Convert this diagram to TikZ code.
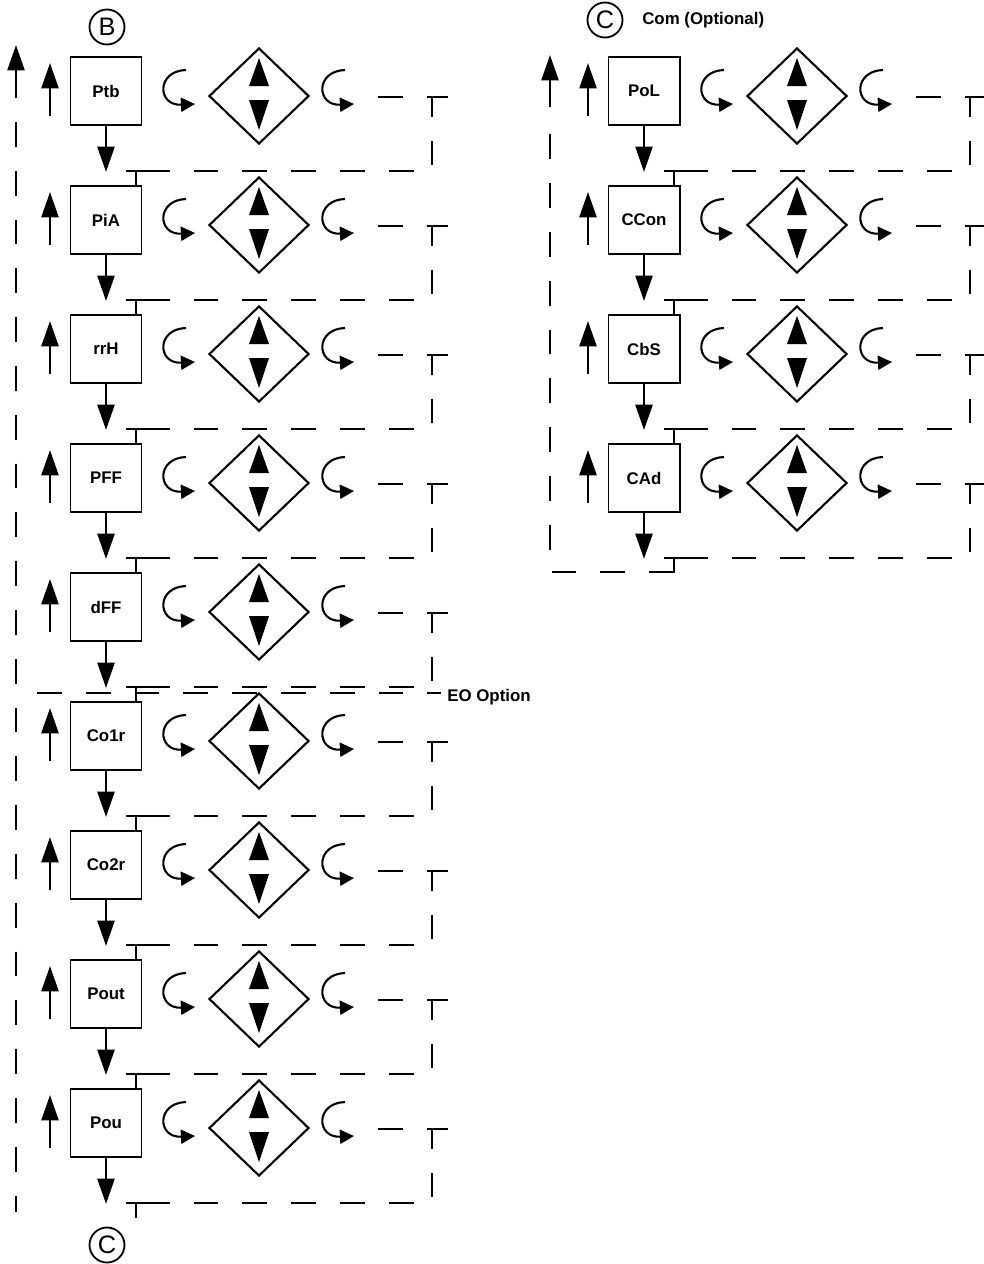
\documentclass[tikz,border=0pt]{standalone}
\usepackage{fontspec}
\setsansfont{Liberation Sans}
\usetikzlibrary{arrows.meta, shapes.geometric}
\tikzset{
  blk/.style={rectangle, draw, line width=1.4pt, minimum width=1.775cm, minimum height=1.7cm,
              inner sep=0pt, font=\fontsize{12}{13}\selectfont\sffamily\bfseries},
  dia/.style={diamond, draw, line width=1.5pt, minimum width=2.5cm, minimum height=2.4cm, inner sep=0pt},
  ar/.style={-{Triangle[length=18pt, width=12pt]}, line width=2pt},
  curl/.style={-{Triangle[length=10pt, width=10pt]}, line width=1.5pt},
  % gestrichelte Rueckfuehrung
  fb/.style={line width=1.6pt, dash pattern=on 17.7pt off 17pt},
  thk/.style={line width=1.6pt},
  circ/.style={circle, draw, line width=1.3pt, minimum size=0.875cm, inner sep=0pt,
               font=\fontsize{18}{19}\selectfont\sffamily},
  lbl/.style={font=\fontsize{12}{14}\selectfont\sffamily\bfseries, inner sep=0pt}
}
\begin{document}
\begin{tikzpicture}[x=0.025cm, y=-0.025cm]
  \useasboundingbox (0,0) rectangle (984,1264);

  \node[circ] (b)  at (107,27)   {B};
  \node[circ] (c1) at (107,1245) {C};
  \node[circ] (c2) at (605,20)   {C};
  \node[lbl, anchor=west] (com) at (642,20) {Com (Optional)};

  \foreach \nm/\txt/\dx/\r in {ptb/Ptb/0/0, pia/PiA/0/1, rrh/rrH/0/2, pff/PFF/0/3, dff/dFF/0/4,
      cor/Co1r/0/5, ctr/Co2r/0/6, pout/Pout/0/7, pou/Pou/0/8,
      pol/PoL/538/0, ccon/CCon/538/1, cbs/CbS/538/2, cad/CAd/538/3}{
    \pgfmathsetmacro\y{91+129*\r}
    \node[blk] (\nm) at (106+\dx,\y) {\txt};
    \node[dia] (\nm-d) at (259+\dx,\y+5) {};
    \fill (259+\dx,\y-33) -- (249+\dx,\y-5) -- (269+\dx,\y-5) -- cycle;
    \fill (249+\dx,\y+9) -- (269+\dx,\y+9) -- (259+\dx,\y+39) -- cycle;
    \coordinate (\nm-a) at (50+\dx,\y+25);
    \coordinate (\nm-b) at (50+\dx,\y-28);
    \coordinate (\nm-o) at (106+\dx,\y+81);
    \draw[ar] (\nm-a) -- (\nm-b);
    \draw[ar] (\nm.south) -- (\nm-o);
    \draw[curl] (186+\dx,\y-21) .. controls (156+\dx,\y-20) and (157+\dx,\y+15) .. (195+\dx,\y+13);
    \draw[curl] (345+\dx,\y-21) .. controls (315+\dx,\y-20) and (316+\dx,\y+15) .. (354+\dx,\y+13);
    \coordinate (\nm-s) at (378+\dx,\y+6);
    \coordinate (\nm-f) at (432+\dx,\y+6);
    \coordinate (\nm-g) at (432+\dx,\y+80);
    \coordinate (\nm-t) at (136+\dx,\y+80);
    \draw[fb] (\nm-s) -- (\nm-f) -- (\nm-g) -- (\nm-t);
    \draw[thk] (\nm-f) -- +(16,0);
    \draw[thk] (126+\dx,\y+80) -- (148+\dx,\y+80) (\nm-t) -- +(0,15);
  }

  % linke Spalte
  \coordinate (lb) at (16,98);
  \coordinate (lt) at (16,45);
  \coordinate (lg) at (16,122);
  \coordinate (le) at (16,1212);
  \draw[ar] (lb) -- (lt);
  \draw[fb] (lg) -- (le);

  \node[lbl, anchor=west] (eo) at (447,697) {EO Option};
  \coordinate (eo0) at (37,693);
  \coordinate (eo1) at (441,693);
  \draw[fb] (eo0) -- (eo1);

  % rechte Spalte
  \coordinate (rb) at (550,107);
  \coordinate (rt) at (550,55);
  \coordinate (rg) at (550,130);
  \coordinate (rc) at (550,572);
  \draw[ar] (rb) -- (rt);
  \draw[fb] (cad-t |- rc) -- (rc) -- (rg);
\end{tikzpicture}
\end{document}
